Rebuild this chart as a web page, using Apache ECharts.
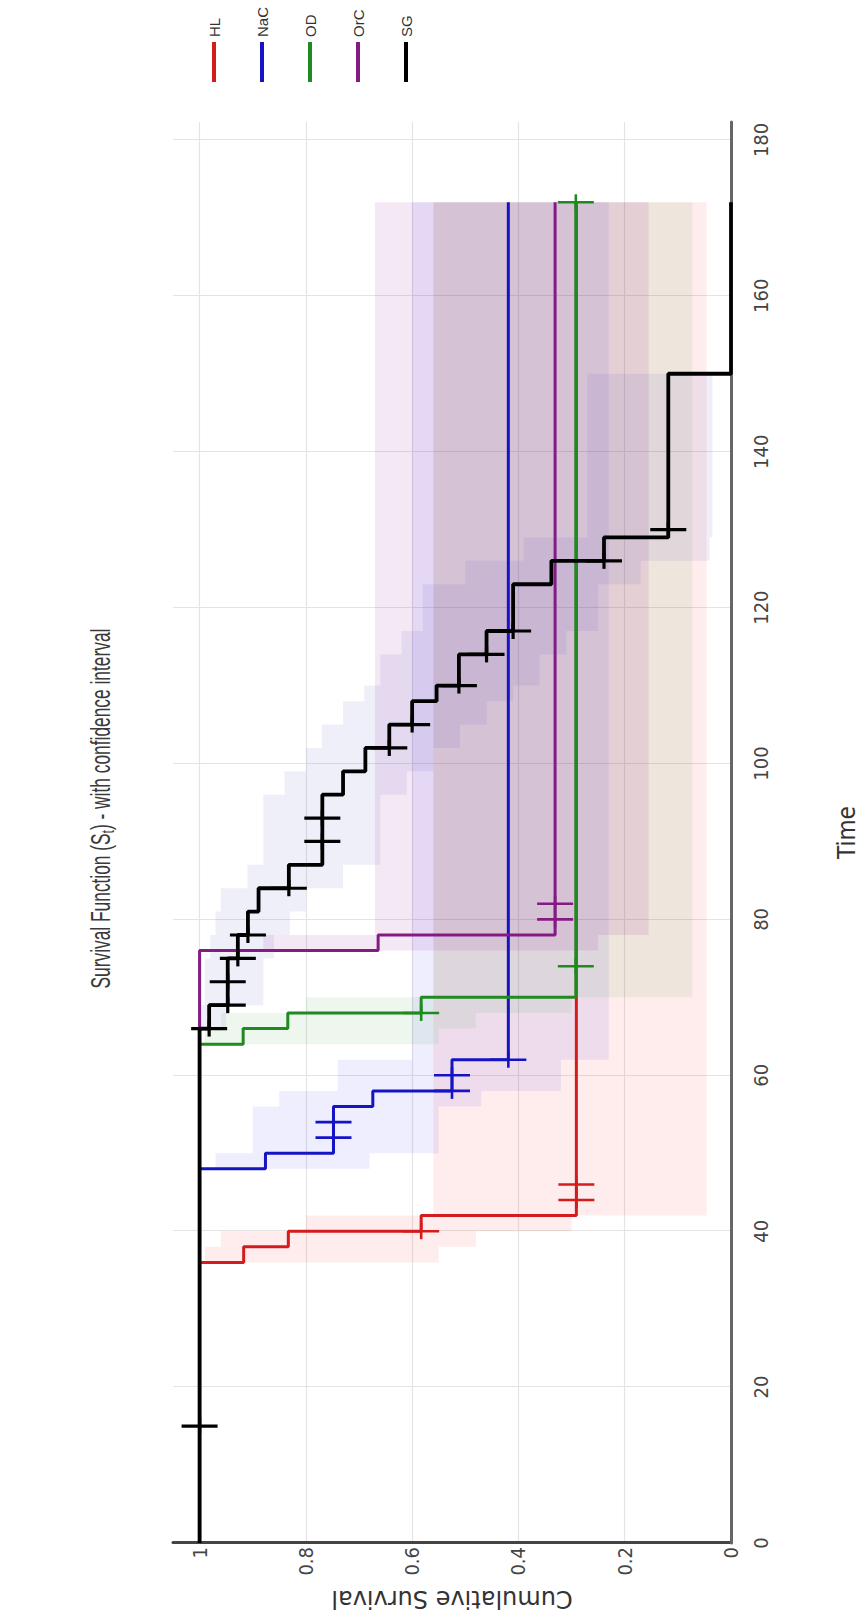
<!DOCTYPE html>
<html><head><meta charset="utf-8">
<script src="https://cdn.jsdelivr.net/npm/echarts@6/dist/echarts.min.js"></script>
<style>
html,body{margin:0;padding:0;width:866px;height:1617px;overflow:hidden;background:#fff}
#chart{position:absolute;left:0;top:0;width:1617px;height:866px;transform-origin:0 0;transform:translate(0px,1617px) rotate(-90deg);}
</style></head><body><div id="chart"></div>
<script>
// ---- data ----
const seriesNames = ['HL', 'NaC', 'OD', 'OrC', 'SG'];
const timeTicks = [0, 20, 40, 60, 80, 100, 120, 140, 160, 180];
const survivalTicks = [0, 0.2, 0.4, 0.6, 0.8, 1];
const titleParts = ['Survival Function (S', 't', ') - with confidence interval'];

// Kaplan-Meier curves [time, survival]
const hlCurve  = [[0,1],[36,0.917],[38,0.833],[40,0.583],[42,0.291],[172,0.291]];
const nacCurve = [[0,1],[48,0.876],[50,0.748],[56,0.674],[58,0.525],[62,0.419],[172,0.419]];
const odCurve  = [[0,1],[64,0.918],[66,0.834],[68,0.583],[70,0.292],[172,0.292]];
const orcCurve = [[0,1],[76,0.664],[78,0.331],[172,0.331]];
const sgCurve  = [[0,1],[66,0.982],[69,0.947],[75,0.928],[78,0.909],[81,0.889],[84,0.832],[87,0.769],[96,0.730],[99,0.688],[102,0.643],[105,0.600],[108,0.554],[110,0.512],[114,0.460],[117,0.410],[123,0.338],[126,0.239],[129,0.118],[150,0],[172,0]];

// censored observations [time, survival]
const hlCensor  = [[40,0.583],[44,0.291],[46,0.291]];
const nacCensor = [[52,0.748],[54,0.748],[58,0.525],[60,0.525],[62,0.419]];
const odCensor  = [[68,0.583],[74,0.292],[172,0.292]];
const orcCensor = [[80,0.331],[82,0.331]];
const sgCensor  = [[15,1],[66,0.982],[69,0.947],[72,0.947],[75,0.928],[78,0.909],[84,0.832],[90,0.769],[93,0.769],[102,0.643],[105,0.600],[110,0.512],[114,0.460],[117,0.410],[126,0.239],[130,0.118]];

// confidence bands [timeStart, timeEnd, lower, upper]
const hlBand  = [[36,38,0.55,0.99],[38,40,0.48,0.96],[40,42,0.30,0.80],[42,172,0.046,0.56]];
const nacBand = [[48,50,0.68,0.97],[50,56,0.55,0.90],[56,58,0.47,0.85],[58,62,0.32,0.74],[62,172,0.23,0.60]];
const odBand  = [[64,66,0.55,0.99],[66,68,0.48,0.96],[68,70,0.30,0.80],[70,172,0.073,0.56]];
const orcBand = [[76,78,0.25,0.88],[78,172,0.155,0.67]];
const sgBand  = [[66,69,0.95,1.0],[69,75,0.88,0.99],[75,78,0.86,0.98],[78,81,0.83,0.97],[81,84,0.80,0.96],[84,87,0.73,0.91],[87,96,0.66,0.88],[96,99,0.61,0.84],[99,102,0.56,0.80],[102,105,0.51,0.77],[105,108,0.46,0.73],[108,110,0.41,0.69],[110,114,0.36,0.66],[114,117,0.31,0.62],[117,123,0.25,0.58],[123,126,0.17,0.50],[126,129,0.04,0.39],[129,150,0.035,0.27]];

// ---- styling ----
const lineColors = {HL:'#d41c1c', NaC:'#1414c4', OD:'#1f8a1f', OrC:'#851a85', SG:'#000000'};
const bandColors = {HL:'rgba(255,0,0,0.075)', NaC:'rgba(0,0,255,0.065)', OD:'rgba(0,128,0,0.065)', OrC:'rgba(128,0,128,0.09)', SG:'rgba(40,40,190,0.075)'};
const curves = {HL:hlCurve, NaC:nacCurve, OD:odCurve, OrC:orcCurve, SG:sgCurve};
const censors = {HL:hlCensor, NaC:nacCensor, OD:odCensor, OrC:orcCensor, SG:sgCensor};
const bands = {HL:hlBand, NaC:nacBand, OD:odBand, OrC:orcBand, SG:sgBand};

const narrow = "'Liberation Sans Narrow','DejaVu Sans Condensed','Arial Narrow',sans-serif";
const regular = "'Liberation Sans',Arial,sans-serif";

const series = [];
seriesNames.forEach(n => {
  series.push({
    name: n + ' CI', type: 'custom', z: 1, silent: true,
    encode: {x: [0, 1], y: [2, 3]},
    data: bands[n],
    renderItem: (params, api) => {
      const p0 = api.coord([api.value(0), api.value(3)]);
      const p1 = api.coord([api.value(1), api.value(2)]);
      return {type: 'rect', shape: {x: p0[0], y: p0[1], width: p1[0] - p0[0], height: p1[1] - p0[1]},
              style: {fill: bandColors[n]}};
    }
  });
});
seriesNames.forEach(n => {
  series.push({
    name: n, type: 'line', step: 'end', z: 3, showSymbol: false, symbol: 'none',
    color: lineColors[n],
    lineStyle: {color: lineColors[n], width: n === 'SG' ? 3.8 : 3},
    data: curves[n]
  });
});
seriesNames.forEach(n => {
  series.push({
    name: n + ' censored', type: 'custom', z: 4, silent: true,
    encode: {x: 0, y: 1},
    data: censors[n],
    renderItem: (params, api) => {
      const p = api.coord([api.value(0), api.value(1)]);
      const st = {stroke: lineColors[n], lineWidth: n === 'SG' ? 3.2 : 2.6};
      return {type: 'group', children: [
        {type: 'line', shape: {x1: p[0], y1: p[1] - 18, x2: p[0], y2: p[1] + 18}, style: st},
        {type: 'line', shape: {x1: p[0] - 8, y1: p[1], x2: p[0] + 8, y2: p[1]}, style: st}
      ]};
    }
  });
});

const chart = echarts.init(document.getElementById('chart'), null, {renderer: 'svg'});
chart.setOption({
  animation: false,
  backgroundColor: '#ffffff',
  graphic: [{
    type: 'text', left: 'center', top: 86, scaleX: 0.62, silent: true,
    style: {
      text: '{a|' + titleParts[0] + '}{b|' + titleParts[1] + '}{a|' + titleParts[2] + '}',
      rich: {
        a: {fontSize: 28, fontFamily: regular, fill: '#3a3a3a'},
        b: {fontSize: 18, fontFamily: regular, fill: '#3a3a3a', padding: [14, 0, 0, 0]}
      }
    }
  }],
  legend: {
    orient: 'vertical', left: 1530, top: 200,
    itemWidth: 40, itemHeight: 4, itemGap: 30,
    textStyle: {fontSize: 15, fontFamily: regular, color: '#333', lineHeight: 18},
    data: seriesNames.map(n => ({name: n, icon: 'rect', itemStyle: {color: lineColors[n]}}))
  },
  grid: {left: 74, right: 122, top: 173, bottom: 135, containLabel: false, outerBoundsMode: 'none'},
  xAxis: {
    type: 'value', min: 0, max: 182.3, interval: 20,
    name: 'Time', nameLocation: 'middle', nameGap: 104,
    nameTextStyle: {fontSize: 24, fontFamily: narrow, color: '#333'},
    axisLine: {show: true, lineStyle: {color: '#666', width: 3}},
    axisTick: {show: false, customValues: timeTicks},
    axisLabel: {customValues: timeTicks, margin: 20, fontSize: 20, fontFamily: narrow, color: '#444'},
    splitLine: {show: true, lineStyle: {color: '#e4e4e4', width: 1.2}}
  },
  yAxis: {
    type: 'value', min: 0, max: 1.05, interval: 0.2,
    name: 'Cumulative Survival', nameLocation: 'middle', nameGap: 44, nameRotate: 90,
    nameTextStyle: {fontSize: 24, fontFamily: "'DejaVu Sans',sans-serif", color: '#333'},
    axisLine: {show: true, lineStyle: {color: '#444', width: 3}},
    axisTick: {show: false, customValues: survivalTicks},
    axisLabel: {customValues: survivalTicks, margin: 4, fontSize: 20, fontFamily: narrow, color: '#444'},
    splitLine: {show: true, lineStyle: {color: '#e4e4e4', width: 1.2}}
  },
  series: series
});
</script></body></html>
